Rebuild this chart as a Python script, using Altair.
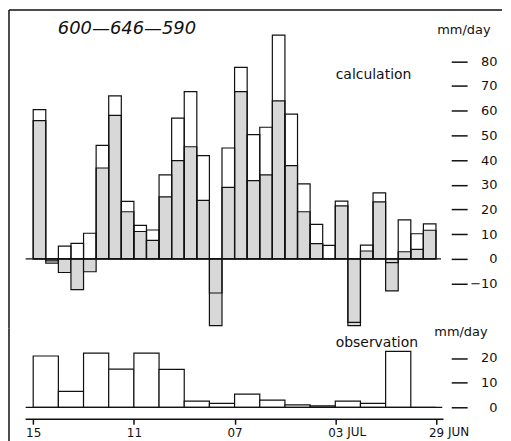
import altair as alt
import pandas as pd

# ---- data ----
# half-day calculated values, 15 Jul (left) back to 29 Jun (right)
calc_total = [60.4, -1.7, 5.2, 6.3, 10.4, 46.0, 66.0, 23.3, 13.6, 11.7, 34.0, 57.0,
              67.7, 41.8, -13.8, 44.9, 77.5, 50.3, 53.3, 90.6, 58.6, 30.4, 14.0, 5.5,
              23.4, -25.7, 5.6, 26.7, -1.5, 15.8, 10.2, 14.2]
calc_dotted = [56.0, -0.8, -5.5, -12.4, -5.2, 36.8, 58.1, 19.1, 11.1, 7.5, 25.1, 39.8,
               45.4, 23.7, -27.0, 29.0, 67.7, 31.7, 34.0, 64.0, 37.8, 19.1, 6.2, 0.0,
               21.5, -27.0, 3.2, 23.1, -12.9, 2.9, 3.9, 11.6]
# daily observed values
obs = [20.8, 6.5, 22.0, 15.5, 22.0, 15.4, 2.5, 1.6, 5.4, 2.9, 1.0, 0.6, 2.5, 1.6, 22.7, 0.0]

x_tick_days = [0, 4, 8, 12, 16]
x_tick_labels = ["15", "11", "07", "03", "29"]
month_days = [12, 16]
month_labels = ["JUL", "JUN"]
top_ticks = [-10, 0, 10, 20, 30, 40, 50, 60, 70, 80]
bot_ticks = [0, 10, 20]

title_text = ["600\u2014646\u2014590"]

# ---- styling ----
INK = "#111111"
DOT = "#d8d8d8"
FONT = "DejaVu Sans"
W = 495
H_TOP = 320
H_BOT = 91

calc_df = pd.DataFrame({
    "x0": [i * 0.5 for i in range(len(calc_total))],
    "x1": [(i + 1) * 0.5 for i in range(len(calc_total))],
    "total": calc_total,
    "dotted": calc_dotted,
})
obs_df = pd.DataFrame({
    "x0": list(range(len(obs))),
    "x1": [i + 1 for i in range(len(obs))],
    "obs": obs,
})
month_df = pd.DataFrame({"d": month_days, "t": month_labels})
one = pd.DataFrame({"v": [0]})

xscale = alt.Scale(domain=[-0.9614, 18.623], nice=False, zero=False)
ytop = alt.Scale(domain=[-28.2, 100.8], nice=False, zero=False)
ybot = alt.Scale(domain=[-4.8, 31.9], nice=False, zero=False)

label_expr = " : ".join(
    f"datum.value == {d} ? '{l}'" for d, l in zip(x_tick_days, x_tick_labels)
) + " : ''"


def right_axis(vals):
    return alt.Axis(orient="right", offset=-51, values=vals, tickSize=16, tickWidth=1.5,
                    tickColor=INK, domain=False, grid=False, title=None,
                    labelAlign="right", labelPadding=30, labelFont=FONT,
                    labelFontSize=13, labelColor=INK)


def bottom_axis():
    return alt.Axis(values=x_tick_days, labelExpr=label_expr, domain=False,
                    grid=False, tickSize=5, tickWidth=1.5, tickColor=INK,
                    labelPadding=3, labelFont=FONT, labelFontSize=12,
                    labelColor=INK, title=None, labelAlign="center",
                    labelBaseline="top")


def txt(s, x, y, size, style="normal", align="left"):
    return alt.Chart(pd.DataFrame({"t": [s]})).mark_text(
        font=FONT, fontSize=size, fontStyle=style, align=align, baseline="alphabetic",
        color=INK).encode(text="t:N", x=alt.value(x), y=alt.value(y))


# ---- top panel: calculation ----
dotted = alt.Chart(calc_df).mark_rect(fill=DOT, stroke=INK, strokeWidth=1.2).encode(
    x=alt.X("x0:Q", scale=xscale, axis=None), x2="x1",
    y=alt.Y("dotted:Q", scale=ytop, axis=right_axis(top_ticks)), y2=alt.datum(0))
outline = alt.Chart(calc_df).mark_rect(fill="white", fillOpacity=0, stroke=INK,
                                        strokeWidth=1.2).encode(
    x=alt.X("x0:Q", scale=xscale, axis=None), x2="x1",
    y=alt.Y("total:Q", scale=ytop, axis=right_axis(top_ticks)), y2=alt.datum(0))
zero_top = alt.Chart(one).mark_rule(color=INK, strokeWidth=1.4).encode(
    x=alt.datum(-0.3), x2=alt.datum(16.2),
    y=alt.Y("v:Q", scale=ytop, axis=right_axis(top_ticks)))
frame_left_top = alt.Chart(one).mark_rule(color=INK, strokeWidth=1.5).encode(
    x=alt.value(0), y=alt.value(0), y2=alt.value(H_TOP))
frame_top = alt.Chart(one).mark_rule(color=INK, strokeWidth=1.5).encode(
    x=alt.value(0), x2=alt.value(W), y=alt.value(0))

top = alt.layer(
    dotted, outline, zero_top, frame_left_top, frame_top,
    txt(title_text[0], 49, 24, 18, style="italic"),
    txt("calculation", 328, 69, 14),
    txt("mm/day", 430, 24, 13),
).properties(width=W, height=H_TOP)

# ---- bottom panel: observation ----
obs_bars = alt.Chart(obs_df).mark_rect(fill="white", stroke=INK, strokeWidth=1.2).encode(
    x=alt.X("x0:Q", scale=xscale, axis=bottom_axis()),
    x2="x1",
    y=alt.Y("obs:Q", scale=ybot, axis=right_axis(bot_ticks)), y2=alt.datum(0))
zero_bot = alt.Chart(one).mark_rule(color=INK, strokeWidth=1.4).encode(
    x=alt.datum(-0.3), x2=alt.datum(16.25), y=alt.datum(0))
x_line = alt.Chart(one).mark_rule(color=INK, strokeWidth=1.5).encode(
    x=alt.datum(-0.3), x2=alt.datum(16.3), y=alt.value(H_BOT))
frame_left_bot = alt.Chart(one).mark_rule(color=INK, strokeWidth=1.5).encode(
    x=alt.value(0), y=alt.value(0), y2=alt.value(H_BOT + 30))
months = alt.Chart(month_df).mark_text(font=FONT, fontSize=12, align="left",
                                        baseline="top", dx=12, dy=0, color=INK).encode(
    x=alt.X("d:Q", scale=xscale, axis=bottom_axis()), y=alt.value(H_BOT + 8), text="t:N")

bottom = alt.layer(
    obs_bars, zero_bot, x_line, frame_left_bot, months,
    txt("observation", 328, 18, 14),
    txt("mm/day", 427, 7, 13),
).properties(width=W, height=H_BOT)

chart = alt.vconcat(top, bottom, spacing=0, bounds="flush").properties(
    padding=0, background="white"
).configure_view(strokeWidth=0)

chart.save("out.html", embed_options={"renderer": "svg", "actions": False})
